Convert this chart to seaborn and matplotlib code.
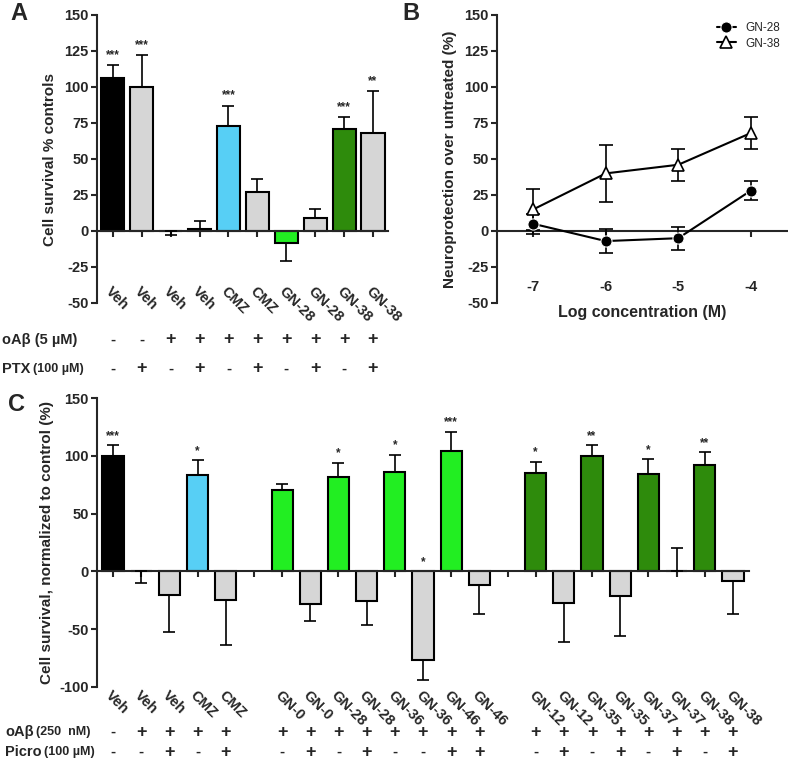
import pandas as pd
import seaborn as sns
import matplotlib.pyplot as plt
from matplotlib.transforms import blended_transform_factory

sns.set_style("ticks")
plt.rcParams['font.family'] = ['Liberation Sans', 'DejaVu Sans']
plt.rcParams['font.weight'] = 'bold'
plt.rcParams['axes.linewidth'] = 1.5
plt.rcParams['axes.unicode_minus'] = False

# ---- colours
palette = {
    'black': '#000000',
    'gray': '#d6d6d6',
    'cyan': '#57cff5',
    'green': '#22ee22',
    'dkgreen': '#2e8b0c',
}

# ---- Panel A
a_labels = ['Veh', 'Veh', 'Veh', 'Veh', 'CMZ', 'CMZ', 'GN-28', 'GN-28', 'GN-38', 'GN-38']
a_values = [106, 100, 0, 1.5, 73, 27, -8, 9, 71, 68]
a_err_end = [115, 122, -3, 7, 87, 36, -21, 15, 79, 97]
a_stars = ['***', '***', '', '', '***', '', '', '', '***', '**']
a_colors = ['black', 'gray', 'gray', 'gray', 'cyan', 'gray', 'green', 'gray', 'dkgreen', 'gray']
a_abeta = ['-', '-', '+', '+', '+', '+', '+', '+', '+', '+']
a_ptx = ['-', '+', '-', '+', '-', '+', '-', '+', '-', '+']

# ---- Panel B
b_conc = [-7, -6, -5, -4]
b_gn28 = [5, -7, -5, 28]
b_gn28_sem = [7, 8.5, 8, 6.5]
b_gn38 = [15, 40, 46, 68]
b_gn38_sem = [14, 20, 11, 11]

# ---- Panel C (None = empty slot)
c_labels = ['Veh', 'Veh', 'Veh', 'CMZ', 'CMZ', None,
            'GN-0', 'GN-0', 'GN-28', 'GN-28', 'GN-36', 'GN-36', 'GN-46', 'GN-46', None,
            'GN-12', 'GN-12', 'GN-35', 'GN-35', 'GN-37', 'GN-37', 'GN-38', 'GN-38']
c_values = [100, 0, -20, 83, -25, None,
            70, -28, 82, -26, 86, -77, 104, -12, None,
            85, -27, 100, -21, 84, 0, 92, -8]
c_err_end = [109, -10, -52, 96, -64, None,
             76, -43, 94, -46, 101, -94, 121, -37, None,
             95, -61, 109, -56, 97, 20, 103, -37]
c_stars = ['***', '', '', '*', '', None,
           '', '', '*', '', '*', '*', '***', '', None,
           '*', '', '**', '', '*', '', '**', '']
c_colors = ['black', 'gray', 'gray', 'cyan', 'gray', None,
            'green', 'gray', 'green', 'gray', 'green', 'gray', 'green', 'gray', None,
            'dkgreen', 'gray', 'dkgreen', 'gray', 'dkgreen', 'gray', 'dkgreen', 'gray']
c_abeta = ['-', '+', '+', '+', '+', None,
           '+', '+', '+', '+', '+', '+', '+', '+', None,
           '+', '+', '+', '+', '+', '+', '+', '+']
c_picro = ['-', '-', '+', '-', '+', None,
           '-', '+', '-', '+', '-', '-', '+', '+', None,
           '-', '+', '-', '+', '-', '+', '-', '+']

fig = plt.figure(figsize=(7.88, 7.64), dpi=100)
W, H = 788, 764


def add_axes(left, top, right, bottom):
    return fig.add_axes([left / W, 1 - bottom / H, (right - left) / W, (bottom - top) / H])


def style_axis(ax, ylim, yticks, pad):
    ax.set_ylim(*ylim)
    ax.set_yticks(yticks)
    ax.spines['top'].set_visible(False)
    ax.spines['right'].set_visible(False)
    ax.spines['bottom'].set_position(('data', 0))
    ax.tick_params(axis='y', length=4, width=1.5, labelsize=10.5, pad=2)
    ax.tick_params(axis='x', length=4, width=1.5, labelsize=10.5, pad=pad)
    for t in ax.get_yticklabels():
        t.set_fontweight('bold')


def bar_panel(ax, labels, values, err_end, stars, colors, width, xlim):
    ids = [f'b{i}' for i in range(len(labels))]
    keep = [i for i in range(len(labels)) if values[i] is not None]
    df = pd.DataFrame({'id': [ids[i] for i in keep], 'value': [values[i] for i in keep]})
    pal = {ids[i]: palette[colors[i]] for i in keep}
    sns.barplot(data=df, x='id', y='value', hue='id', order=ids, palette=pal,
                width=width, edgecolor='black', linewidth=1.5, saturation=1,
                dodge=False, legend=False, ax=ax)
    for i in keep:
        v, e = values[i], err_end[i]
        lower = max(v - e, 0)
        upper = max(e - v, 0)
        ax.errorbar(i, v, yerr=[[lower], [upper]], fmt='none', ecolor='black',
                    elinewidth=1.2, capsize=4, capthick=1.2, zorder=3)
        if stars[i]:
            ax.text(i, max(e, 0) + 3, stars[i], ha='center', va='bottom', fontsize=8.5)
    ax.set_xlim(*xlim)
    ax.set_xticks(range(len(labels)))
    ax.set_xticklabels([l if l else '' for l in labels])
    ax.set_xlabel('')


def rotate_labels(ax):
    for t in ax.get_xticklabels():
        t.set_rotation(-45)
        t.set_rotation_mode('anchor')
        t.set_ha('left')
        t.set_va('top')
        t.set_fontweight('bold')


def sign_rows(ax, rows, yfracs):
    trans = blended_transform_factory(ax.transData, ax.transAxes)
    for row, yf in zip(rows, yfracs):
        for i, s in enumerate(row):
            if s:
                ax.text(i, yf, s, transform=trans, ha='center', va='center',
                        fontsize=13 if s == '+' else 11, fontweight='bold', clip_on=False)


def row_label(x, y, main, small):
    t = fig.text(x / W, 1 - y / H, main, ha='left', va='center', fontsize=10.5, fontweight='bold')
    if small:
        plt.annotate(small, xy=(1, 0.5), xycoords=t, xytext=(2, 0),
                     textcoords='offset points', ha='left', va='center',
                     fontsize=9, fontweight='bold', annotation_clip=False)


# ---------- Panel A
axA = add_axes(97, 15, 388, 303)
bar_panel(axA, a_labels, a_values, a_err_end, a_stars, a_colors, 0.8, (-0.55, 9.52))
style_axis(axA, (-50, 150), [-50, -25, 0, 25, 50, 75, 100, 125, 150], 34)
rotate_labels(axA)
axA.set_ylabel('Cell survival % controls', fontsize=11, fontweight='bold', labelpad=5)
sign_rows(axA, [a_abeta, a_ptx], [(303 - 340) / 288, (303 - 369) / 288])
row_label(2, 340, 'oA\u03b2 (5 \u00b5M)', None)
row_label(2, 369, 'PTX', '(100 \u00b5M)')

# ---------- Panel B
axB = add_axes(497, 15, 787, 303)
sns.lineplot(x=b_conc, y=b_gn28, marker='o', color='black', markersize=8,
             linewidth=1.5, label='GN-28', ax=axB, zorder=4)
sns.lineplot(x=b_conc, y=b_gn38, marker='^', color='black', markerfacecolor='white',
             markeredgecolor='black', markeredgewidth=1.2, markersize=9,
             linewidth=1.5, label='GN-38', ax=axB, zorder=4)
axB.errorbar(b_conc, b_gn28, yerr=b_gn28_sem, fmt='none', ecolor='black',
             elinewidth=1.2, capsize=5, capthick=1.2, zorder=3)
axB.errorbar(b_conc, b_gn38, yerr=b_gn38_sem, fmt='none', ecolor='black',
             elinewidth=1.2, capsize=5, capthick=1.2, zorder=3)
axB.set_xlim(-7.5, -3.5)
axB.set_xticks(b_conc)
style_axis(axB, (-50, 150), [-50, -25, 0, 25, 50, 75, 100, 125, 150], 31)
for t in axB.get_xticklabels():
    t.set_fontweight('bold')
axB.set_xlabel('Log concentration (M)', fontsize=11.5, fontweight='bold')
axB.xaxis.set_label_coords(0.5, (303 - 313) / 288, transform=axB.transAxes)
axB.xaxis.label.set_va('center')
axB.set_ylabel('Neuroprotection over untreated (%)', fontsize=11, fontweight='bold', labelpad=5)
leg = axB.legend(loc='upper right', frameon=False, fontsize=8.5, handlelength=1.6,
                 borderaxespad=0.2, labelspacing=0.3)
for t in leg.get_texts():
    t.set_fontweight('normal')

# ---------- Panel C
axC = add_axes(97, 398, 749, 687)
bar_panel(axC, c_labels, c_values, c_err_end, c_stars, c_colors, 0.75, (-0.57, 22.57))
style_axis(axC, (-100, 150), [-100, -50, 0, 50, 100, 150], 80)
rotate_labels(axC)
axC.set_ylabel('Cell survival, normalized to control (%)', fontsize=11,
               fontweight='bold', labelpad=4)
sign_rows(axC, [c_abeta, c_picro], [(687 - 732) / 289, (687 - 752) / 289])
row_label(5, 732, 'oA\u03b2', '(250  nM)')
row_label(5, 752, 'Picro', '(100 \u00b5M)')

# panel letters
fig.text(10 / W, 1 - 2 / H, 'A', fontsize=17, fontweight='bold', ha='left', va='top')
fig.text(402 / W, 1 - 2 / H, 'B', fontsize=17, fontweight='bold', ha='left', va='top')
fig.text(8 / W, 1 - 393 / H, 'C', fontsize=17, fontweight='bold', ha='left', va='top')

fig.savefig('out.png', dpi=100)
